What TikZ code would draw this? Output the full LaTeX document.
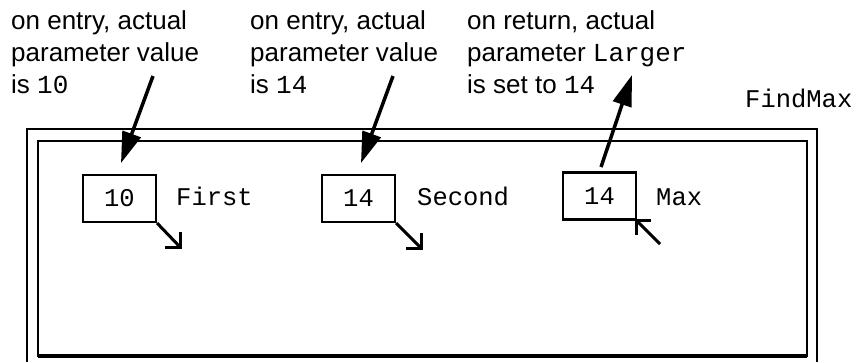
\documentclass[tikz,border=0pt]{standalone}
\usepackage{fontspec}
\setmainfont{Liberation Sans}
\setmonofont{Liberation Mono}
\usetikzlibrary{arrows.meta}
\begin{document}
\begin{tikzpicture}[x=1pt,y=-1pt,
  txt/.style={anchor=base west,inner sep=0pt,font=\fontsize{26}{32}\selectfont},
  mono/.style={anchor=base west,inner sep=0pt,font=\fontsize{25.5}{32}\selectfont\ttfamily},
  valbox/.style={draw,line width=2.2pt,minimum width=73pt,minimum height=47pt,inner sep=0pt,font=\fontsize{25.5}{32}\selectfont\ttfamily},
  frame/.style={line width=2.6pt},
  bigarrow/.style={line width=3.5pt,-{Triangle[length=31pt,width=19pt]}},
  smallline/.style={line width=3pt},
  barb/.style={line width=3pt,line join=miter}
]
\useasboundingbox (0,0) rectangle (858,362);
\fill[white] (0,0) rectangle (858,362);

% texts
\node[txt] (t1a) at (11,29) {on entry, actual};
\node[txt] (t1b) at (11,61) {parameter value};
\node[txt] (t1c) at (11,93) {is \texttt{10}};
\node[txt] (t2a) at (250,29) {on entry, actual};
\node[txt] (t2b) at (250,61) {parameter value};
\node[txt] (t2c) at (250,93) {is \texttt{14}};
\node[txt] (t3a) at (467,29) {on return, actual};
\node[txt] (t3b) at (467,61) {parameter \texttt{Larger}};
\node[txt] (t3c) at (467,93) {is set to \texttt{14}};
\node[mono] (fm) at (745,107) {FindMax};

% frames
\coordinate (ol) at (27,362);
\coordinate (otl) at (27,129);
\coordinate (otr) at (817,129);
\coordinate (or) at (817,362);
\draw[frame] (ol) -- (otl) -- (otr) -- (or);
\coordinate (itl) at (38,141);
\coordinate (ibr) at (807,356);
\draw[frame] (itl) rectangle (ibr);
\coordinate (ibl) at (38,356);
\draw[line width=3.2pt] (ibl) -- (ibr);

% value boxes
\node[valbox] (b1) at (119.5,198.5) {10};
\node[valbox] (b2) at (358.5,198.5) {14};
\node[valbox] (b3) at (599.5,196) {14};
\node[mono] (l1) at (176,205) {First};
\node[mono] (l2) at (417,205) {Second};
\node[mono] (l3) at (656,205) {Max};

% big arrows
\coordinate (a1s) at (153,76);
\coordinate (a1e) at (121,163);
\draw[bigarrow] (a1s) -- (a1e);
\coordinate (a2s) at (393,76);
\coordinate (a2e) at (361,163);
\draw[bigarrow] (a2s) -- (a2e);
\coordinate (a3s) at (601,167);
\coordinate (a3e) at (632,75);
\draw[bigarrow] (a3s) -- (a3e);

% small arrows
\coordinate (s1) at (180,247);
\draw[smallline] (b1.south east) -- (s1);
\draw[barb] (s1) ++(-15,0) -- (s1) -- ++(0,-15);
\coordinate (s2) at (421,248);
\draw[smallline] (b2.south east) -- (s2);
\draw[barb] (s2) ++(-15,0) -- (s2) -- ++(0,-15);
\coordinate (s3) at (660,244);
\coordinate (c3) at (636,220);
\draw[smallline] (s3) -- (c3);
\draw[barb] (c3) ++(15,0) -- (c3) -- ++(0,15);
\end{tikzpicture}
\end{document}
